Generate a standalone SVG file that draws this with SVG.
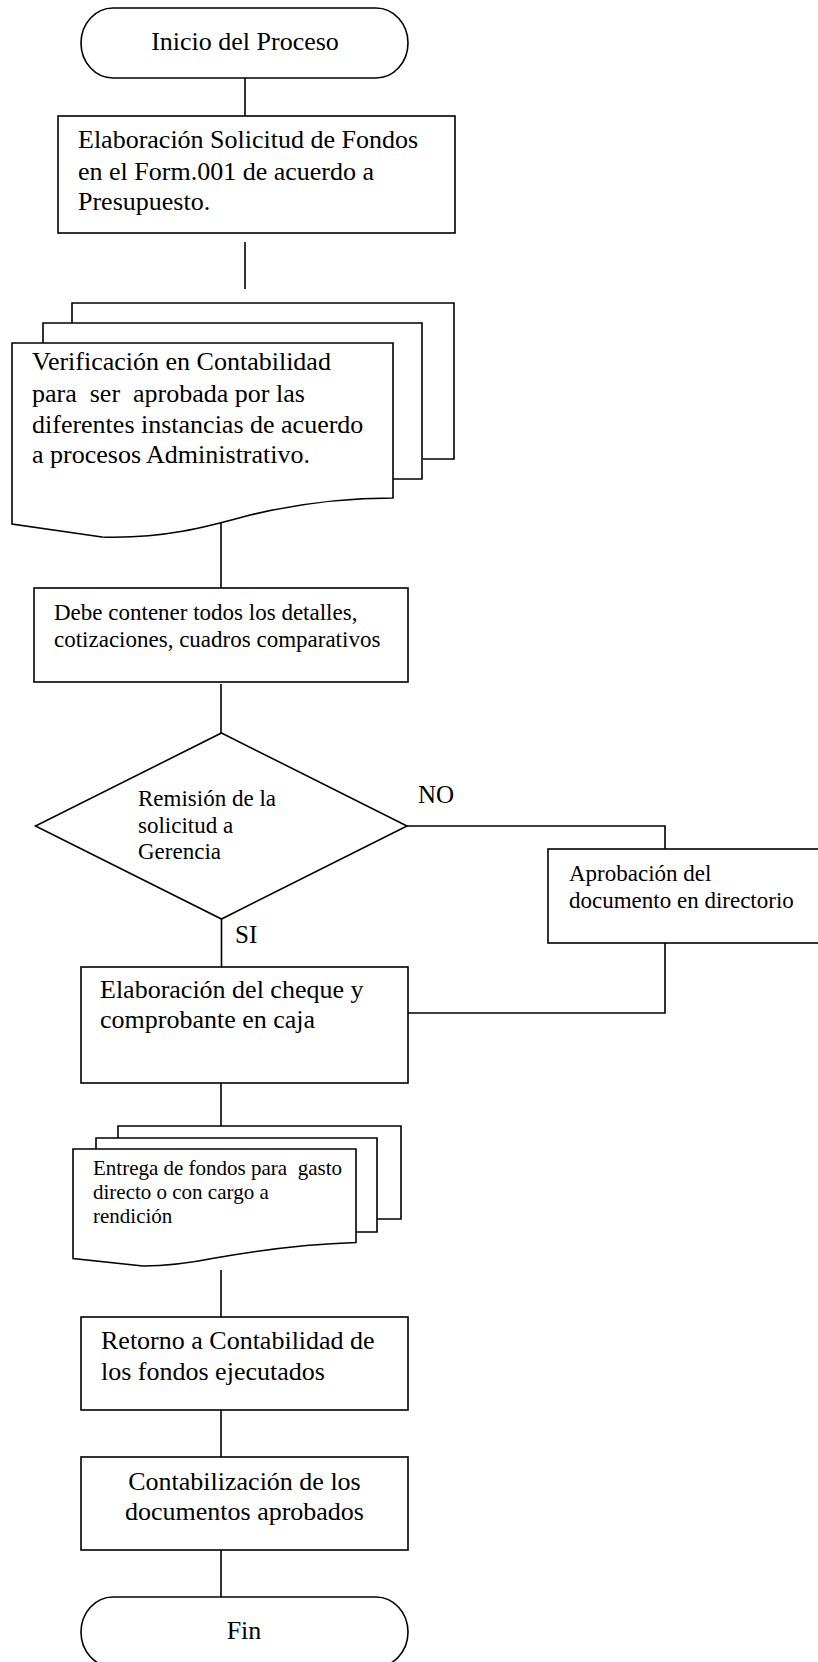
<svg xmlns="http://www.w3.org/2000/svg" width="818" height="1662" viewBox="0 0 818 1662">
<style>
.s{fill:#fff;stroke:#000;stroke-width:1.6}
.c{fill:none;stroke:#000;stroke-width:1.6}
text{font-family:"Liberation Serif","Times New Roman",serif;fill:#000;white-space:pre}
.f26{font-size:26px}
.f23{font-size:23px}
.f21{font-size:21px}
.f25{font-size:25px}
.m{text-anchor:middle}
</style>
<rect width="818" height="1662" fill="#fff"/>
<g id="connectors">
<path class="c" d="M245,78V116"/>
<path class="c" d="M245,242V289"/>
<path class="c" d="M221,522V588"/>
<path class="c" d="M221,684V733"/>
<path class="c" d="M407,826H665V849"/>
<path class="c" d="M665,943V1013H408"/>
<path class="c" d="M221.5,919V967"/>
<path class="c" d="M221,1083V1126"/>
<path class="c" d="M221,1270V1317"/>
<path class="c" d="M221,1410V1457"/>
<path class="c" d="M221,1550V1597"/>
</g>
<g id="start">
<rect class="s" x="81" y="8" width="327" height="70" rx="32" ry="35"/>
<text class="f26 m" x="245" y="50">Inicio del Proceso</text>
</g>
<g id="solicitud">
<rect class="s" x="58" y="116" width="397" height="117"/>
<text class="f26" x="78" y="148">Elaboración Solicitud de Fondos</text>
<text class="f26" x="78" y="180">en el Form.001 de acuerdo a</text>
<text class="f26" x="78" y="210">Presupuesto.</text>
</g>
<g id="verificacion">
<path class="s" d="M72,323V303H454V459H423"/>
<path class="s" d="M43,343V323H422V479H393"/>
<path class="s" d="M12,343H393V498C350,498 300,503 250,515C210,526 165,539 102,537L12,524Z"/>
<text class="f26" x="32" y="370">Verificación en Contabilidad</text>
<text class="f26" x="32" y="402">para  ser  aprobada por las</text>
<text class="f26" x="32" y="433">diferentes instancias de acuerdo</text>
<text class="f26" x="32" y="463">a procesos Administrativo.</text>
</g>
<g id="detalles">
<rect class="s" x="34" y="588" width="374" height="94"/>
<text class="f23" x="54" y="620">Debe contener todos los detalles,</text>
<text class="f23" x="54" y="647">cotizaciones, cuadros comparativos</text>
</g>
<g id="decision">
<polygon class="s" points="221.5,733 407,826 221.5,919 35.5,826"/>
<text class="f23" x="138" y="806">Remisión de la</text>
<text class="f23" x="138" y="833">solicitud a</text>
<text class="f23" x="138" y="859">Gerencia</text>
<text class="f25" x="418" y="803">NO</text>
<text class="f25" x="235" y="943">SI</text>
</g>
<g id="directorio">
<rect class="s" x="548" y="849" width="275" height="94"/>
<text class="f23" x="569" y="881">Aprobación del</text>
<text class="f23" x="569" y="908">documento en directorio</text>
</g>
<g id="cheque">
<rect class="s" x="81" y="967" width="327" height="116"/>
<text class="f26" x="100" y="998">Elaboración del cheque y</text>
<text class="f26" x="100" y="1028">comprobante en caja</text>
</g>
<g id="entrega">
<path class="s" d="M118,1138V1126H401V1219H377"/>
<path class="s" d="M96,1149V1138H377V1232H356"/>
<path class="s" d="M73,1149H356V1242.5C310,1244 260,1250 215,1258C185,1264 165,1266 143,1266L73,1258.5Z"/>
<text class="f21" x="93" y="1175">Entrega de fondos para  gasto</text>
<text class="f21" x="93" y="1199">directo o con cargo a</text>
<text class="f21" x="93" y="1223">rendición</text>
</g>
<g id="retorno">
<rect class="s" x="81" y="1317" width="327" height="93"/>
<text class="f26" x="101" y="1349">Retorno a Contabilidad de</text>
<text class="f26" x="101" y="1380">los fondos ejecutados</text>
</g>
<g id="contabilizacion">
<rect class="s" x="81" y="1457" width="327" height="93"/>
<text class="f26 m" x="244.5" y="1490">Contabilización de los</text>
<text class="f26 m" x="244.5" y="1520">documentos aprobados</text>
</g>
<g id="fin">
<rect class="s" x="81" y="1597" width="327" height="70" rx="32" ry="35"/>
<text class="f26 m" x="244" y="1639">Fin</text>
</g>
</svg>
